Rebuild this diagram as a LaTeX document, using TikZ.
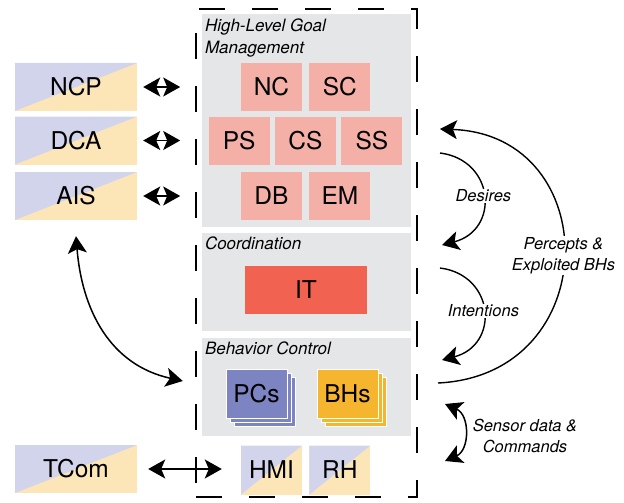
\documentclass[tikz,border=0pt]{standalone}
\usepackage{fontspec}
\setmainfont{TeX Gyre Heros}
\usepackage{tikz}
\usetikzlibrary{positioning, arrows.meta, calc, shadows}
\definecolor{ifacelav}{RGB}{210,212,236}
\definecolor{ifaceyel}{RGB}{252,230,184}
\definecolor{panelgray}{RGB}{229,230,232}
\definecolor{goalpink}{RGB}{244,175,166}
\definecolor{itred}{RGB}{241,99,80}
\definecolor{pcblue}{RGB}{124,132,194}
\definecolor{bhorange}{RGB}{245,181,46}
\tikzset{
  panel/.style={fill=panelgray, minimum width=209pt, minimum height=98pt,
    inner sep=0pt},
  ptitle/.style={font=\fontsize{17}{21.5}\selectfont\itshape, anchor=north west,
    align=left, inner sep=0pt},
  goal/.style={fill=goalpink, minimum width=61pt, minimum height=48pt,
    inner sep=0pt, font=\fontsize{24.5}{28}\selectfont},
  iface/.style={fill=ifaceyel, minimum width=61pt, minimum height=49pt,
    inner sep=0pt, font=\fontsize{24.5}{28}\selectfont,
    path picture={\fill[ifacelav] (path picture bounding box.south west)
      -- (path picture bounding box.north west)
      -- (path picture bounding box.north east) -- cycle;}},
  iface wide/.style={iface, minimum width=122pt, minimum height=48pt},
  stack/.style={draw=white, line width=0.8pt, minimum width=61pt,
    minimum height=49pt, inner sep=0pt, font=\fontsize{24.5}{28}\selectfont,
    double copy shadow={shadow xshift=4pt, shadow yshift=-4pt}},
  link/.style={line width=1.5pt,
    {Stealth[length=17pt, width=19pt, inset=4pt]}-{Stealth[length=17pt, width=19pt, inset=4pt]}},
  flow/.style={line width=1.4pt, -{Stealth[length=17pt, width=19pt, inset=4pt]}},
  lbl/.style={font=\fontsize{16.5}{21}\selectfont\itshape, fill=white,
    align=center, inner sep=1pt},
}

\begin{document}
\begin{tikzpicture}[x=1pt, y=-1pt]
\useasboundingbox (0,0) rectangle (624,503);

% system boundary
\node[draw, line width=1.6pt, dash pattern=on 26pt off 27pt,
  minimum width=221pt, minimum height=488pt, inner sep=0pt] (sys) at (306.5,253) {};

% layers
\node[panel, minimum height=213pt] (hlg) at (306.5,120.5) {};
\node[panel] (coord) at (306.5,282) {};
\node[panel] (bc) at (306.5,387) {};
\node[ptitle] at ($(hlg.north west)+(3,5)$) {High-Level Goal\\Management};
\node[ptitle] at ($(coord.north west)+(3,4)$) {Coordination};
\node[ptitle] at ($(bc.north west)+(3,4)$) {Behavior Control};

% goal management modules
\node[goal] (nc) at (271.5,87) {NC};
\node[goal, right=7pt of nc] (sc) {SC};
\node[goal] (cs) at (305.5,140.5) {CS};
\node[goal, left=5pt of cs] (ps) {PS};
\node[goal, right=5pt of cs] (ss) {SS};
\node[goal] (db) at (271.5,196) {DB};
\node[goal, right=7pt of db] (em) {EM};

\node[fill=itred, minimum width=122pt, minimum height=48pt,
  font=\fontsize{24.5}{28}\selectfont] (it) at (306,290) {IT};

\node[stack, fill=pcblue] (pcs) at (256.5,393.5) {PCs};
\node[stack, fill=bhorange] (bhs) at (347.5,393.5) {BHs};

\node[iface] (hmi) at (271.5,470) {HMI};
\node[iface, right=7pt of hmi] (rh) {RH};

% external interfaces
\node[iface wide] (ncp) at (76,87) {NCP};
\node[iface wide] (dca) at (76,140.5) {DCA};
\node[iface wide] (ais) at (76,196) {AIS};
\node[iface wide] (tcom) at (76,469) {TCom};

\draw[link, shorten <=6pt, shorten >=15pt] (ncp.east) -- (ncp.east -| sys.west);
\draw[link, shorten <=6pt, shorten >=15pt] (dca.east) -- (dca.east -| sys.west);
\draw[link, shorten <=6pt, shorten >=15pt] (ais.east) -- (ais.east -| sys.west);
\draw[link, shorten <=11pt, shorten >=19pt] (tcom.east) -- (tcom.east -| hmi.west);
\draw[link] ($(ais.south)+(0,16)$) .. controls (82,310) and (110,365)
  .. ($(bc.west)+(-19,-6)$);

% flows between layers
\coordinate (d1) at (440,153);
\coordinate (d2) at (442,245);
\coordinate (i1) at (440,268);
\coordinate (i2) at (442,360);
\coordinate (p1) at (438,383);
\coordinate (p2) at (440,129);
\coordinate (s1) at (445,404);
\coordinate (s2) at (445,461);

\draw[flow] (d1) .. controls (495,160) and (500,230) .. (d2)
  node[lbl, pos=0.5] {Desires};
\draw[flow] (i1) .. controls (495,275) and (500,345) .. (i2)
  node[lbl, pos=0.5] {Intentions};
\draw[flow] (p1) .. controls (605,375) and (605,135) .. (p2)
  node[lbl, pos=0.5] {Percepts \&\\Exploited BHs};
\draw[link] (s1) .. controls (470,415) and (470,450) .. (s2);
\node[lbl, fill=none] at (525,436) {Sensor data \&\\Commands};

\end{tikzpicture}
\end{document}
